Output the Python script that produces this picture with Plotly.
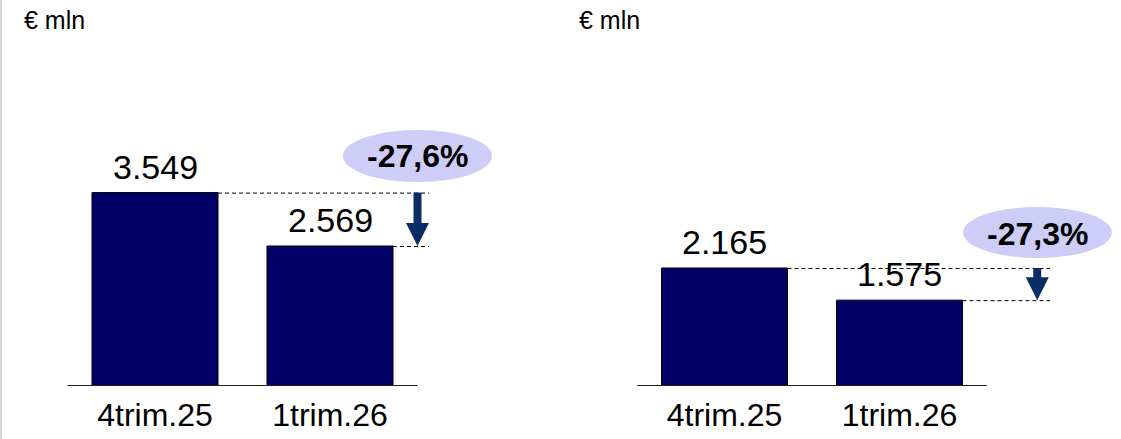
import plotly.graph_objects as go

# ---- data ----
categories = ["4trim.25", "1trim.26"]
left_values = [3549, 2569]    # € mln
right_values = [2165, 1575]   # € mln
unit_label = "€ mln"

FONT = "Liberation Sans, Arial, sans-serif"
BAR_COLOR = "#000066"
ARROW_COLOR = "#0b2d66"
ELLIPSE_COLOR = "#cdcdf7"

W, H = 1121, 439
BASE_PX = 386            # baseline pixel (from top)
PX_PER_UNIT = 0.0545     # pixels per € mln
YMAX = BASE_PX / PX_PER_UNIT
SPACING = 175.0          # px per category
HALF_PX = 0.5 / PX_PER_UNIT   # half-pixel nudge for crisp 1px dashed lines


def ypx(px):
    """value at a given pixel row (from top)"""
    return (BASE_PX - px) / PX_PER_UNIT


def fmt_val(v):
    return f"{v:,}".replace(",", ".")


def fmt_pct(a, b):
    p = (b / a - 1) * 100
    return f"{p:.1f}%".replace(".", ",")


fig = go.Figure()

panels = [
    dict(vals=left_values, xa="x", ya="y", dom=(0, 560), c0=155.0,
         dash_end=1.566, arrow_x=1.5, ell=(1.074, 1.926, ypx(130), ypx(182)),
         txt=(1.5, ypx(156)), unit_px=22),
    dict(vals=right_values, xa="x2", ya="y2", dom=(560, W), c0=724.5,
         dash_end=1.86, arrow_x=1.787, ell=(1.363, 2.214, ypx(207), ypx(258)),
         txt=(1.787, ypx(234)), unit_px=577),
]

shapes = []
annotations = []

for i, p in enumerate(panels):
    vals = p["vals"]
    xs = list(range(len(categories)))
    fig.add_trace(go.Bar(
        x=xs, y=vals, xaxis=p["xa"], yaxis=p["ya"], width=0.72,
        marker=dict(color=BAR_COLOR, line=dict(color="#000000", width=1)),
        showlegend=False, hoverinfo="skip",
    ))
    xref, yref = p["xa"], p["ya"]
    # baseline
    shapes.append(dict(type="line", xref=xref, yref=yref, x0=-0.5, x1=1.5,
                       y0=0, y1=0, line=dict(color="#222222", width=2)))
    # dashed reference lines
    for j, v in enumerate(vals):
        shapes.append(dict(type="line", xref=xref, yref=yref,
                           x0=xs[j] + 0.36, x1=p["dash_end"],
                           y0=v - HALF_PX, y1=v - HALF_PX,
                           line=dict(color="#000000", width=1, dash="4px,3px")))
    # arrow
    head_h = 23 / PX_PER_UNIT
    half_w = 11.5 / SPACING
    ax = p["arrow_x"]
    shapes.append(dict(type="line", xref=xref, yref=yref, x0=ax, x1=ax,
                       y0=vals[0], y1=vals[1] + head_h - 1 / PX_PER_UNIT,
                       line=dict(color=ARROW_COLOR, width=8)))
    shapes.append(dict(type="path", xref=xref, yref=yref,
                       path=f"M {ax - half_w},{vals[1] + head_h} L {ax + half_w},{vals[1] + head_h} L {ax},{vals[1]} Z",
                       fillcolor=ARROW_COLOR, line=dict(width=0)))
    # ellipse
    ex0, ex1, ey0, ey1 = p["ell"]
    shapes.append(dict(type="circle", xref=xref, yref=yref, x0=ex0, x1=ex1,
                       y0=ey0, y1=ey1, fillcolor=ELLIPSE_COLOR,
                       line=dict(width=0), layer="above"))
    annotations.append(dict(xref=xref, yref=yref, x=p["txt"][0], y=p["txt"][1],
                            text=f"<b>{fmt_pct(vals[0], vals[1])}</b>",
                            showarrow=False, xanchor="center", yanchor="middle",
                            font=dict(family=FONT, size=32, color="#000000")))
    # value labels
    for j, v in enumerate(vals):
        annotations.append(dict(xref=xref, yref=yref, x=xs[j], y=v,
                                text=fmt_val(v), showarrow=False,
                                xanchor="center", yanchor="bottom", yshift=5,
                                font=dict(family=FONT, size=34, color="#000000")))
    # unit label
    annotations.append(dict(xref="paper", yref="paper", x=p["unit_px"] / W,
                            y=1 - 20 / H, text=unit_label, showarrow=False,
                            xanchor="left", yanchor="middle",
                            font=dict(family=FONT, size=25, color="#000000")))

# light grey left border
shapes.append(dict(type="line", xref="paper", yref="paper", x0=1 / W, x1=1 / W,
                   y0=0, y1=1, line=dict(color="#d4d4d4", width=2)))

ydom = [(H - BASE_PX) / H, 1]


def xaxis(p):
    d0, d1 = p["dom"]
    c0 = p["c0"]
    return dict(domain=[d0 / W, d1 / W],
                range=[(d0 - c0) / SPACING, (d1 - c0) / SPACING],
                tickvals=[0, 1], ticktext=categories, showgrid=False,
                zeroline=False, showline=False, ticks="",
                ticklabelstandoff=7,
                tickfont=dict(family=FONT, size=32, color="#000000"),
                fixedrange=True)


yax = dict(domain=ydom, range=[0, YMAX], visible=False, showgrid=False,
           zeroline=False, fixedrange=True)

fig.update_layout(
    width=W, height=H, margin=dict(l=0, r=0, t=0, b=0),
    paper_bgcolor="#ffffff", plot_bgcolor="rgba(0,0,0,0)",
    xaxis=dict(**xaxis(panels[0]), anchor="y"),
    xaxis2=dict(**xaxis(panels[1]), anchor="y2"),
    yaxis=dict(**yax, anchor="x"),
    yaxis2=dict(**yax, anchor="x2"),
    shapes=shapes, annotations=annotations, bargap=0.28,
)

fig.write_html("out.html", config={"displayModeBar": False},
               post_script="document.body.style.margin='0';document.body.style.overflow='hidden';")
